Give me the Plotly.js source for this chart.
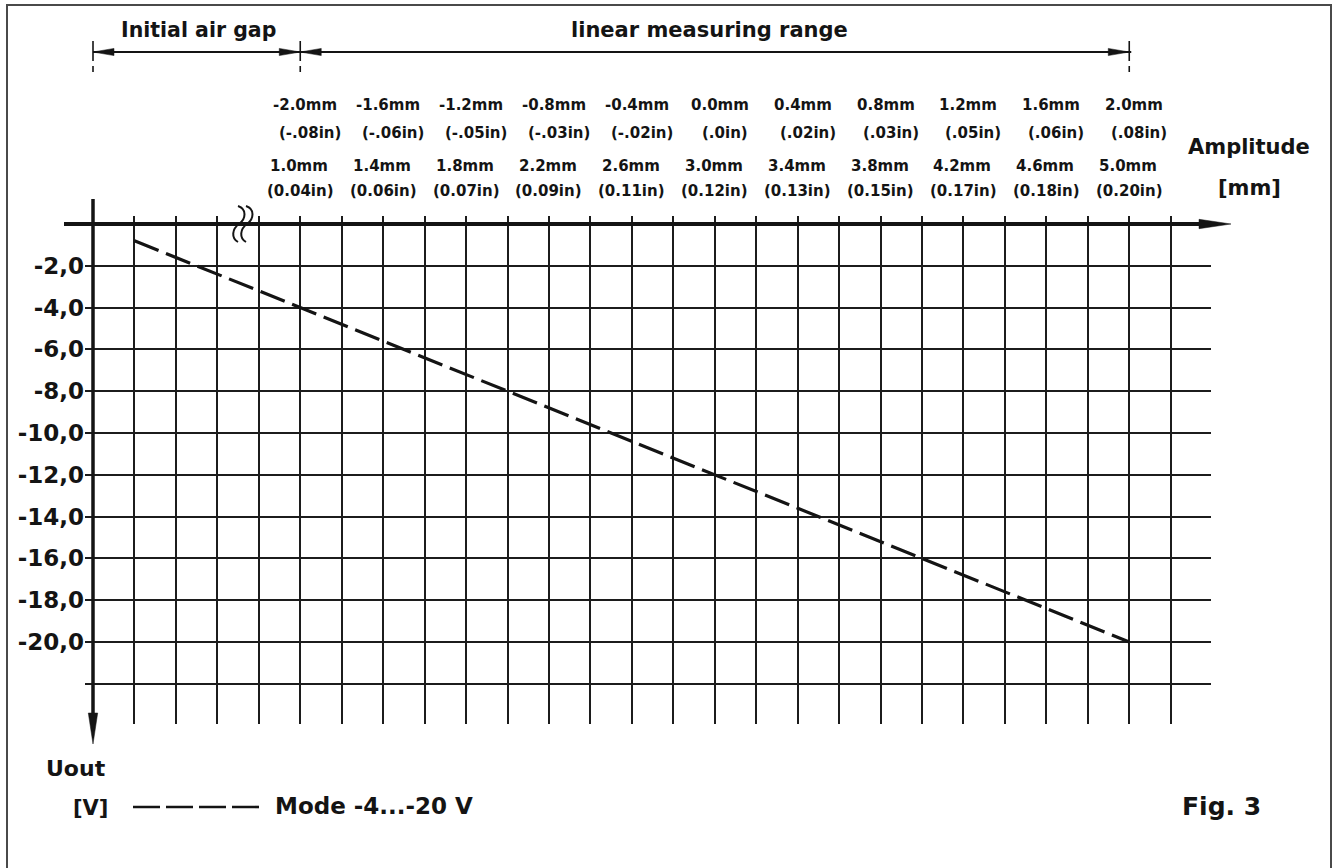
<!DOCTYPE html>
<html><head><meta charset="utf-8">
<script src="https://cdn.plot.ly/plotly-3.0.1.min.js"></script>
<style>html,body{margin:0;padding:0;background:#fff}#chart{width:1333px;height:868px}</style>
</head><body><div id="chart"></div>
<script>
// ---------------- data ----------------
const gapMm = [0.2, 1.0, 5.0];            // air gap [mm]
const outV = [-0.8, -4.0, -20.0];         // Uout [V], Mode -4...-20 V
const labelGapMm = [1.0, 1.4, 1.8, 2.2, 2.6, 3.0, 3.4, 3.8, 4.2, 4.6, 5.0];
const amplitudeMmText = ["-2.0mm","-1.6mm","-1.2mm","-0.8mm","-0.4mm","0.0mm","0.4mm","0.8mm","1.2mm","1.6mm","2.0mm"];
const amplitudeInText = ["(-.08in)","(-.06in)","(-.05in)","(-.03in)","(-.02in)","(.0in)","(.02in)","(.03in)","(.05in)","(.06in)","(.08in)"];
const gapMmText = ["1.0mm","1.4mm","1.8mm","2.2mm","2.6mm","3.0mm","3.4mm","3.8mm","4.2mm","4.6mm","5.0mm"];
const gapInText = ["(0.04in)","(0.06in)","(0.07in)","(0.09in)","(0.11in)","(0.12in)","(0.13in)","(0.15in)","(0.17in)","(0.18in)","(0.20in)"];
const voltGridVals = [0, -2, -4, -6, -8, -10, -12, -14, -16, -18, -20, -22];
const voltTickText = ["", "-2,0", "-4,0", "-6,0", "-8,0", "-10,0", "-12,0", "-14,0", "-16,0", "-18,0", "-20,0", ""];
const airGapRange = [0, 1.0];
const linearRange = [1.0, 5.0];
const seriesName = "Mode -4...-20 V";

// ---------------- geometry / style ----------------
const W = 1333, H = 868;
const X0 = 93, PXMM = 207.25, Y0 = 224, PYV = 20.9;
const dx = px => (px - X0) / PXMM;   // pixel -> mm
const dy = py => (Y0 - py) / PYV;    // pixel -> V
const P = (px, py) => dx(px) + ',' + dy(py);
const FONT = 'DejaVu Sans';
const INK = '#141414';
const f = (size) => ({family: FONT, size: size, color: INK, weight: 700});

const gridL = 85, gridR = 1211, gridT = 216, gridB = 723.5;

const traces = [
  {x: [], y: [], xaxis: 'x', yaxis: 'y', type: 'scatter', hoverinfo: 'skip', showlegend: false},
  {x: gapMm, y: outV, xaxis: 'x2', yaxis: 'y2', type: 'scatter', mode: 'lines', name: seriesName,
   line: {color: INK, width: 3.2, dash: '26px,8px'}, hoverinfo: 'skip', showlegend: false}
];

const shapes = [];
const line = (x0, y0, x1, y1, w, extra) => Object.assign({type: 'line', xref: 'x', yref: 'y',
  x0: x0, y0: y0, x1: x1, y1: y1, line: {color: INK, width: w}, layer: 'above'}, extra || {});
const tri = (a, b, c) => ({type: 'path', xref: 'x', yref: 'y', layer: 'above',
  path: 'M' + P(a[0], a[1]) + ' L' + P(b[0], b[1]) + ' L' + P(c[0], c[1]) + ' Z',
  fillcolor: INK, line: {color: INK, width: 0.5}});

// frame
shapes.push({type: 'rect', xref: 'paper', yref: 'paper', x0: 7 / W, x1: 1331 / W, y0: -0.02, y1: (H - 5) / H,
  line: {color: '#4a4a4a', width: 2}, layer: 'above'});
// x axis with arrow
shapes.push(line(dx(64), 0, dx(1206), 0, 4));
shapes.push(tri([1231, 224], [1199, 219.3], [1199, 228.7]));
// y axis with arrow
shapes.push(line(0, dy(199), 0, dy(718), 3.5));
shapes.push(tri([93, 744], [88.3, 713], [97.7, 713]));
// axis break squiggle
[238, 246].forEach(ox => {
  shapes.push({type: 'path', xref: 'x', yref: 'y', layer: 'above', line: {color: INK, width: 2},
    path: 'M' + P(ox, 206) + ' C' + P(ox + 9, 209) + ' ' + P(ox + 8, 219) + ' ' + P(ox + 1, 224) +
          ' C' + P(ox - 6, 229) + ' ' + P(ox - 7, 238) + ' ' + P(ox, 242)});
});
// dimension lines
const dimY = dy(52);
const dimX = [airGapRange[0], airGapRange[1], linearRange[1]];
shapes.push(line(dimX[0], dimY, dimX[2] + dx(95) , dimY, 2));
dimX.forEach(x => {
  shapes.push(line(x, dy(41), x, dy(61), 1.6));
  shapes.push(line(x, dy(66), x, dy(72), 1.6));
});
const AL = 21 / PXMM, AH = 3.6;
const arrowAt = (x, dir) => {
  const px = X0 + x * PXMM;
  shapes.push(tri([px, 52], [px - dir * 21, 52 - AH], [px - dir * 21, 52 + AH]));
};
arrowAt(dimX[0], -1); arrowAt(dimX[1], 1); arrowAt(dimX[1], -1); arrowAt(dimX[2], 1);
// legend sample
shapes.push(line(dx(133), dy(807), dx(261), dy(807), 2.6, {line: {color: INK, width: 2.6, dash: '27px,6px'}}));

// ---------------- annotations ----------------
const annotations = [];
const txt = (x, y, text, size, extra) => annotations.push(Object.assign({xref: 'x', yref: 'y', x: x, y: y,
  text: text, showarrow: false, font: f(size), xanchor: 'center', yanchor: 'middle'}, extra || {}));

txt((airGapRange[0] + airGapRange[1]) / 2, dy(30), 'Initial air gap', 20.5, {xshift: 2});
txt((linearRange[0] + linearRange[1]) / 2, dy(30), 'linear measuring range', 21, {xshift: -5});
labelGapMm.forEach((x, i) => {
  txt(x, dy(105), amplitudeMmText[i], 15, {xshift: 5});
  txt(x, dy(133), amplitudeInText[i], 15, {xshift: 10});
  txt(x, dy(166), gapMmText[i], 15, {xshift: -1});
  txt(x, dy(191), gapInText[i], 15, {xshift: 0});
});
txt(dx(1249), dy(147), 'Amplitude', 21);
txt(dx(1249), dy(188), '[mm]', 21);
txt(dx(76), dy(768), 'Uout', 22);
txt(dx(90), dy(808), '[V]', 21);
txt(dx(273), dy(806), seriesName, 23, {xanchor: 'left'});
txt(dx(1221), dy(806), 'Fig. 3', 25);

const layout = {
  width: W, height: H, margin: {l: 0, r: 0, t: 0, b: 0, pad: 0},
  paper_bgcolor: '#ffffff', plot_bgcolor: 'rgba(0,0,0,0)', showlegend: false,
  xaxis: {domain: [0, 1], range: [dx(0), dx(W)], visible: false, fixedrange: true},
  yaxis: {domain: [0, 1], range: [dy(H), dy(0)], visible: false, fixedrange: true},
  xaxis2: {domain: [gridL / W, gridR / W], range: [dx(gridL), dx(gridR)], anchor: 'y2',
    showgrid: true, gridcolor: '#1c1c1c', gridwidth: 2, tick0: 0, dtick: 0.2,
    showticklabels: false, ticks: '', zeroline: false, showline: false, fixedrange: true},
  yaxis2: {domain: [(H - gridB) / H, (H - gridT) / H], range: [dy(gridB), dy(gridT)], anchor: 'x2',
    showgrid: true, gridcolor: '#1c1c1c', gridwidth: 2, tickmode: 'array',
    tickvals: voltGridVals, ticktext: voltTickText, tickfont: f(23),
    ticks: '', zeroline: false, showline: false, fixedrange: true},
  shapes: shapes, annotations: annotations
};
Plotly.newPlot('chart', traces, layout, {staticPlot: true, displayModeBar: false});
</script></body></html>
